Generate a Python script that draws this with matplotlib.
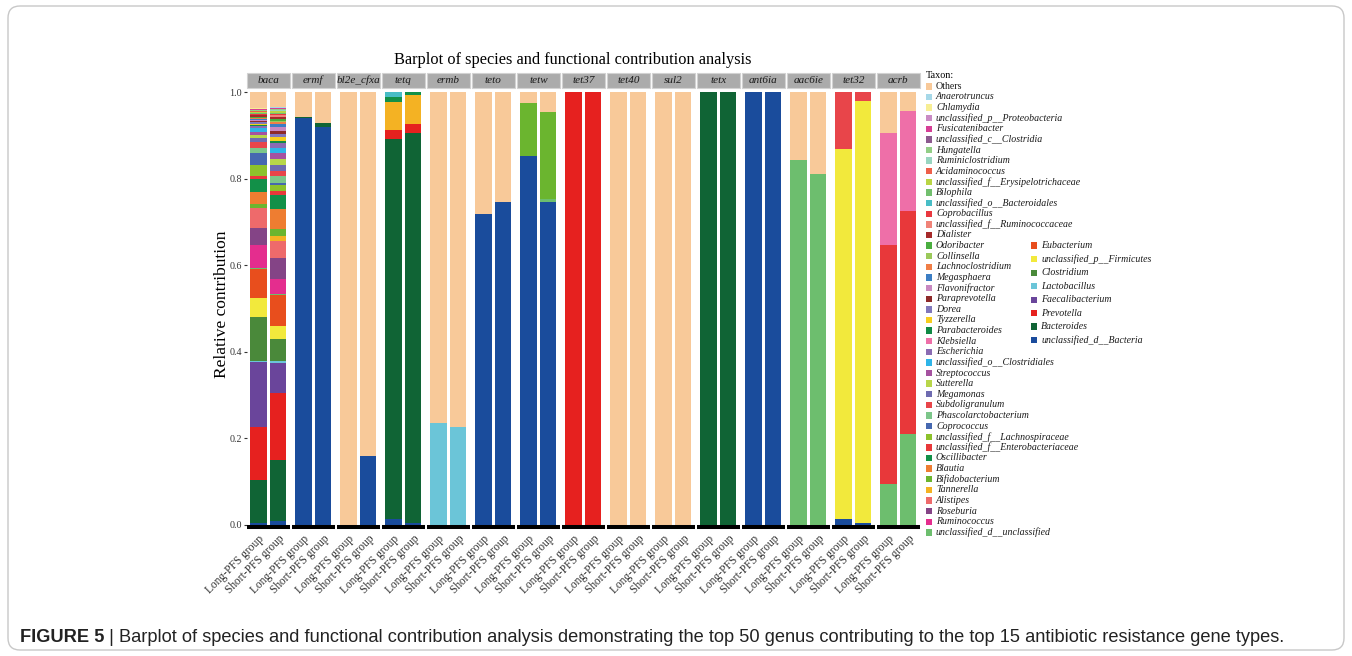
import matplotlib
matplotlib.use("Agg")
import matplotlib.pyplot as plt
from matplotlib.patches import Rectangle, FancyBboxPatch
from matplotlib.transforms import IdentityTransform

# taxa in legend order (top of stack first)
taxa = ["Others", "Anaerotruncus", "Chlamydia", "unclassified_p__Proteobacteria",
        "Fusicatenibacter", "unclassified_c__Clostridia", "Hungatella", "Ruminiclostridium",
        "Acidaminococcus", "unclassified_f__Erysipelotrichaceae", "Bilophila",
        "unclassified_o__Bacteroidales", "Coprobacillus", "unclassified_f__Ruminococcaceae",
        "Dialister", "Odoribacter", "Collinsella", "Lachnoclostridium", "Megasphaera",
        "Flavonifractor", "Paraprevotella", "Dorea", "Tyzzerella", "Parabacteroides",
        "Klebsiella", "Escherichia", "unclassified_o__Clostridiales", "Streptococcus",
        "Sutterella", "Megamonas", "Subdoligranulum", "Phascolarctobacterium", "Coprococcus",
        "unclassified_f__Lachnospiraceae", "unclassified_f__Enterobacteriaceae",
        "Oscillibacter", "Blautia", "Bifidobacterium", "Tannerella", "Alistipes",
        "Roseburia", "Ruminococcus", "unclassified_d__unclassified",
        "Eubacterium", "unclassified_p__Firmicutes", "Clostridium", "Lactobacillus",
        "Faecalibacterium", "Prevotella", "Bacteroides", "unclassified_d__Bacteria"]

colors = ["#F8C999", "#A6D8E8", "#F7EE94", "#C98BC4",
          "#D63F96", "#8C5A8E", "#92CE86", "#98D5C0",
          "#EE5F4A", "#B9D544", "#72BF6E",
          "#48BDC6", "#E9383F", "#F08378",
          "#A62A2A", "#4AAE3F", "#9BC95A", "#F07E46", "#3C7EC4",
          "#C888C0", "#8E2A2A", "#8077BB", "#F6CD1E", "#108A45",
          "#EE6FA8", "#8A6BB3", "#2EB4E8", "#A552A0",
          "#B8D64A", "#6E6BB0", "#E8454A", "#7CC68A", "#4668B0",
          "#8DC22B", "#E8383A",
          "#129048", "#EE7D31", "#6BB52F", "#F4B223", "#EE6A6B",
          "#844486", "#E42D8E", "#6DBE6E",
          "#E84E1D", "#F2E93C", "#4A893A", "#6BC5D8",
          "#6A459B", "#E6211F", "#106435", "#1A4C9C"]

genes = ["baca", "ermf", "bl2e_cfxa", "tetq", "ermb", "teto", "tetw", "tet37",
         "tet40", "sul2", "tetx", "ant6ia", "aac6ie", "tet32", "acrb"]
groups = ["Long-PFS group", "Short-PFS group"]

# relative contribution of each genus (Others = remainder)
baca_long = {"unclassified_d__Bacteria": 0.004, "Bacteroides": 0.099, "Prevotella": 0.124,
             "Faecalibacterium": 0.149, "Lactobacillus": 0.003, "Clostridium": 0.102,
             "unclassified_p__Firmicutes": 0.043, "Eubacterium": 0.067,
             "unclassified_d__unclassified": 0.002, "Ruminococcus": 0.053, "Roseburia": 0.041,
             "Alistipes": 0.046, "Bifidobacterium": 0.009, "Blautia": 0.028,
             "Oscillibacter": 0.029, "unclassified_f__Enterobacteriaceae": 0.008,
             "unclassified_f__Lachnospiraceae": 0.025, "Coprococcus": 0.026,
             "Phascolarctobacterium": 0.012, "Subdoligranulum": 0.015, "Megamonas": 0.008,
             "Sutterella": 0.008, "Streptococcus": 0.006, "unclassified_o__Clostridiales": 0.011,
             "Escherichia": 0.003, "Klebsiella": 0.001, "Parabacteroides": 0.001,
             "Tyzzerella": 0.004, "Dorea": 0.004, "Paraprevotella": 0.003,
             "Flavonifractor": 0.002, "Megasphaera": 0.002, "Lachnoclostridium": 0.001,
             "Collinsella": 0.002, "Odoribacter": 0.002, "Dialister": 0.003,
             "unclassified_f__Ruminococcaceae": 0.001, "Coprobacillus": 0.002,
             "unclassified_o__Bacteroidales": 0.001, "Bilophila": 0.002,
             "unclassified_f__Erysipelotrichaceae": 0.002, "Acidaminococcus": 0.002,
             "Ruminiclostridium": 0.001, "Hungatella": 0.001, "unclassified_c__Clostridia": 0.001,
             "Fusicatenibacter": 0.001, "unclassified_p__Proteobacteria": 0.001,
             "Chlamydia": 0.001, "Anaerotruncus": 0.002}
baca_short = {"unclassified_d__Bacteria": 0.010, "Bacteroides": 0.139, "Prevotella": 0.155,
              "Faecalibacterium": 0.071, "Lactobacillus": 0.004, "Clostridium": 0.051,
              "unclassified_p__Firmicutes": 0.029, "Eubacterium": 0.072,
              "unclassified_d__unclassified": 0.002, "Ruminococcus": 0.034, "Roseburia": 0.049,
              "Alistipes": 0.041, "Tannerella": 0.010, "Bifidobacterium": 0.016,
              "Blautia": 0.047, "Oscillibacter": 0.032,
              "unclassified_f__Enterobacteriaceae": 0.010,
              "unclassified_f__Lachnospiraceae": 0.013, "Coprococcus": 0.004,
              "Phascolarctobacterium": 0.018, "Subdoligranulum": 0.011, "Megamonas": 0.014,
              "Sutterella": 0.013, "Streptococcus": 0.013, "unclassified_o__Clostridiales": 0.012,
              "Escherichia": 0.012, "Klebsiella": 0.001, "Parabacteroides": 0.004,
              "Tyzzerella": 0.009, "Dorea": 0.006, "Paraprevotella": 0.009,
              "Flavonifractor": 0.008, "Megasphaera": 0.006, "Lachnoclostridium": 0.006,
              "Collinsella": 0.003, "Odoribacter": 0.003, "Dialister": 0.005,
              "unclassified_f__Ruminococcaceae": 0.004, "Coprobacillus": 0.003,
              "unclassified_o__Bacteroidales": 0.001, "Bilophila": 0.002,
              "unclassified_f__Erysipelotrichaceae": 0.003, "Acidaminococcus": 0.002,
              "Ruminiclostridium": 0.002, "Hungatella": 0.001, "unclassified_c__Clostridia": 0.001,
              "Fusicatenibacter": 0.001, "unclassified_p__Proteobacteria": 0.001,
              "Chlamydia": 0.001, "Anaerotruncus": 0.002}
ermf_long = {"unclassified_d__Bacteria": 0.939, "Bacteroides": 0.004}
ermf_short = {"unclassified_d__Bacteria": 0.920, "Bacteroides": 0.009}
bl2e_long = {}
bl2e_short = {"unclassified_d__Bacteria": 0.160}
tetq_long = {"unclassified_d__Bacteria": 0.015, "Bacteroides": 0.876, "Prevotella": 0.021,
             "Tannerella": 0.066, "Oscillibacter": 0.010, "unclassified_o__Bacteroidales": 0.012}
tetq_short = {"unclassified_d__Bacteria": 0.004, "Bacteroides": 0.902, "Prevotella": 0.019,
              "Tannerella": 0.068, "Oscillibacter": 0.007}
ermb_long = {"Lactobacillus": 0.235}
ermb_short = {"Lactobacillus": 0.226}
teto_long = {"unclassified_d__Bacteria": 0.718}
teto_short = {"unclassified_d__Bacteria": 0.747}
tetw_long = {"unclassified_d__Bacteria": 0.852, "Bifidobacterium": 0.123}
tetw_short = {"unclassified_d__Bacteria": 0.747, "unclassified_d__unclassified": 0.007,
              "Bifidobacterium": 0.199}
tet37_long = {"Prevotella": 1.0}
tet37_short = {"Prevotella": 1.0}
tet40_long = {}
tet40_short = {}
sul2_long = {}
sul2_short = {}
tetx_long = {"Bacteroides": 1.0}
tetx_short = {"Bacteroides": 1.0}
ant6ia_long = {"unclassified_d__Bacteria": 1.0}
ant6ia_short = {"unclassified_d__Bacteria": 1.0}
aac6ie_long = {"unclassified_d__unclassified": 0.843}
aac6ie_short = {"unclassified_d__unclassified": 0.810}
tet32_long = {"unclassified_d__Bacteria": 0.015, "unclassified_p__Firmicutes": 0.853,
              "Subdoligranulum": 0.132}
tet32_short = {"unclassified_d__Bacteria": 0.004, "unclassified_p__Firmicutes": 0.975,
               "Subdoligranulum": 0.021}
acrb_long = {"unclassified_d__unclassified": 0.095, "unclassified_f__Enterobacteriaceae": 0.552,
             "Klebsiella": 0.258}
acrb_short = {"unclassified_d__unclassified": 0.210, "unclassified_f__Enterobacteriaceae": 0.516,
              "Klebsiella": 0.230}

bars = {"baca": (baca_long, baca_short), "ermf": (ermf_long, ermf_short),
        "bl2e_cfxa": (bl2e_long, bl2e_short), "tetq": (tetq_long, tetq_short),
        "ermb": (ermb_long, ermb_short), "teto": (teto_long, teto_short),
        "tetw": (tetw_long, tetw_short), "tet37": (tet37_long, tet37_short),
        "tet40": (tet40_long, tet40_short), "sul2": (sul2_long, sul2_short),
        "tetx": (tetx_long, tetx_short), "ant6ia": (ant6ia_long, ant6ia_short),
        "aac6ie": (aac6ie_long, aac6ie_short), "tet32": (tet32_long, tet32_short),
        "acrb": (acrb_long, acrb_short)}

W, H = 1352, 656
SERIF = "Liberation Serif"
SANS = "Liberation Sans"

def fx(x):
    return x / W

def fy(y):
    return 1 - y / H

fig = plt.figure(figsize=(W / 100, H / 100), dpi=100)

# outer frame
frame = FancyBboxPatch((8, H - 650), 1336, 644, boxstyle="round,pad=0,rounding_size=12",
                       transform=IdentityTransform(), facecolor="none",
                       edgecolor="#C8C8C8", linewidth=1.0)
fig.patches.append(frame)

color_of = dict(zip(taxa, colors))
top_px, bot_px, zero_px, unit_px = 88, 527, 525, 433

for i, g in enumerate(genes):
    left = 246.7 + 45 * i
    ax = fig.add_axes([fx(left), fy(bot_px), 43.3 / W, (bot_px - top_px) / H])
    for j, vals in enumerate(bars[g]):
        bottom = 0.0
        rest = 1.0 - sum(vals.values())
        for t in reversed(taxa):
            h = rest if t == "Others" else vals.get(t, 0.0)
            if h <= 0:
                continue
            ax.bar(j + 1, h, bottom=bottom, width=0.83, color=color_of[t], linewidth=0)
            bottom += h
    ax.set_xlim(0.4, 2.6)
    ax.set_ylim(-(bot_px - zero_px) / unit_px, (zero_px - top_px) / unit_px)
    for s in ["top", "right", "left"]:
        ax.spines[s].set_visible(False)
    ax.spines["bottom"].set_linewidth(2.9)
    ax.spines["bottom"].set_color("black")
    ax.spines["bottom"].set_capstyle("butt")
    ax.set_xticks([1, 2])
    ax.set_xticklabels(groups, rotation=45, ha="right", va="top",
                       rotation_mode="anchor", fontsize=8.3, family=SERIF, color="#333333")
    ax.tick_params(axis="x", length=0, pad=4)
    if i == 0:
        ax.set_yticks([0, 0.2, 0.4, 0.6, 0.8, 1.0])
        ax.set_yticklabels(["0.0", "0.2", "0.4", "0.6", "0.8", "1.0"],
                           fontsize=7.2, family=SERIF, color="#333333")
        ax.tick_params(axis="y", length=2.5, width=0.8, color="#333333", pad=1)
    else:
        ax.set_yticks([])
    # facet strip
    ax.add_patch(Rectangle((0, 1), 1, 15 / (bot_px - top_px), transform=ax.transAxes,
                           facecolor="#ABABAB", edgecolor="#D2D2D2", linewidth=0.8,
                           clip_on=False))
    ax.text(0.5, 1 + 7.8 / (bot_px - top_px), g, transform=ax.transAxes, ha="center",
            va="center", fontsize=8, family=SERIF, style="italic", color="#1A1A1A")

fig.text(fx(572.5), fy(60), "Barplot of species and functional contribution analysis",
         ha="center", va="center", fontsize=11.8, family=SERIF, color="black")
fig.text(fx(222), fy(304), "Relative contribution", rotation=90, ha="center", va="center",
         fontsize=12.5, family=SERIF, color="black")

# legend
fig.text(fx(926), fy(75), "Taxon:", ha="left", va="center", fontsize=7.3, family=SERIF)
for k, (t, c) in enumerate(zip(taxa, colors)):
    if k < 43:
        kx, ky = 926, 86.3 + 10.62 * k
    else:
        kx, ky = 1031, 245.7 + 13.5 * (k - 43)
    fig.patches.append(Rectangle((fx(kx), fy(ky + 3.2)), 6.4 / W, 6.4 / H,
                                 transform=fig.transFigure, facecolor=c, edgecolor="none"))
    fig.text(fx(kx + 10), fy(ky), t, ha="left", va="center", fontsize=7.1, family=SERIF,
             style="italic" if t != "Others" else "normal", color="#1A1A1A")

# caption
cap1 = fig.text(fx(20), fy(637), "FIGURE 5", ha="left", va="center", fontsize=13.12,
                family=SANS, weight="bold", color="#222222")
fig.canvas.draw()
bb = cap1.get_window_extent()
fig.text(bb.x1 / W, fy(637),
         " | Barplot of species and functional contribution analysis demonstrating the top 50 "
         "genus contributing to the top 15 antibiotic resistance gene types.",
         ha="left", va="center", fontsize=13.12, family=SANS, color="#222222")

fig.savefig("out.png", dpi=100)
